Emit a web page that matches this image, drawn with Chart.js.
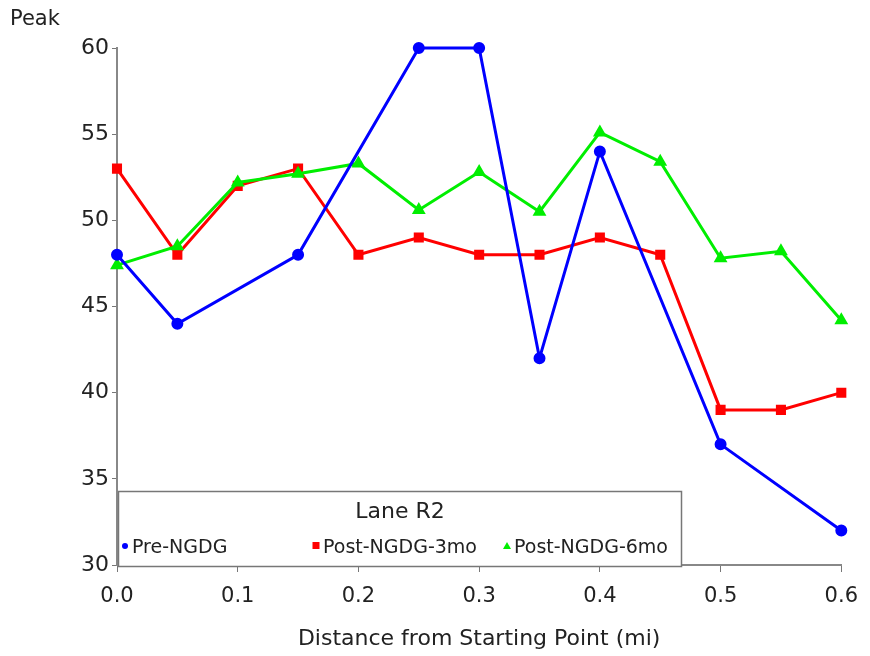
<!DOCTYPE html>
<html>
<head>
<meta charset="utf-8">
<script src="https://cdn.jsdelivr.net/npm/chart.js@4.4.1/dist/chart.umd.min.js"></script>
<style>
  html, body { margin: 0; padding: 0; background: #fff; }
  #wrap { width: 870px; height: 656px; position: relative; }
</style>
</head>
<body>
<div id="wrap"><canvas id="peakChart"></canvas></div>
<script>
// distances (mi) where readings were taken
const distance = [0, 0.05, 0.1, 0.15, 0.2, 0.25, 0.3, 0.35, 0.4, 0.45, 0.5, 0.55, 0.6];
// Pre-NGDG only has some of the stations
const preDistance = [0, 0.05, 0.15, 0.25, 0.3, 0.35, 0.4, 0.5, 0.6];
const preNGDG = [48, 44, 48, 60, 60, 42, 54, 37, 32];
const post3mo = [53, 48, 52, 53, 48, 49, 48, 48, 49, 48, 39, 39, 40];
const post6mo = [47.4, 48.5, 52.2, 52.7, 53.3, 50.6, 52.8, 50.5, 55.1, 53.4, 47.8, 48.2, 44.2];
const seriesNames = ['Pre-NGDG', 'Post-NGDG-3mo', 'Post-NGDG-6mo'];
const legendTitle = 'Lane R2';
const yTitle = 'Peak';
const xTitle = 'Distance from Starting Point (mi)';

const toPoints = (xs, ys) => xs.map((x, i) => ({ x: x, y: ys[i] }));
const FONT = "'DejaVu Sans', Verdana, sans-serif";

// legend box + "Peak" label, drawn on top
const overlay = {
  id: 'overlay',
  afterDraw(chart) {
    const ctx = chart.ctx;
    const x = chart.scales.x;
    ctx.save();
    // y title at top-left
    ctx.fillStyle = '#222';
    ctx.font = '21px ' + FONT;
    ctx.textAlign = 'left';
    ctx.textBaseline = 'middle';
    ctx.fillText(yTitle, 10, 20);

    // legend box
    const bx = x.getPixelForValue(0) + 1, by = 491, bw = 563, bh = 75;
    ctx.fillStyle = '#fff';
    ctx.fillRect(bx, by, bw, bh);
    ctx.strokeStyle = '#777';
    ctx.lineWidth = 1.5;
    ctx.strokeRect(bx + 0.5, by + 0.5, bw, bh);
    ctx.fillStyle = '#222';
    ctx.font = '22px ' + FONT;
    ctx.textAlign = 'center';
    ctx.fillText(legendTitle, 400, 512);

    const itemX = [125, 316, 507];
    ctx.font = '19px ' + FONT;
    ctx.textAlign = 'left';
    chart.data.datasets.forEach((ds, i) => {
      const cx = itemX[i], cy = 548;
      ctx.fillStyle = ds.borderColor;
      ctx.beginPath();
      if (ds.pointStyle === 'circle') {
        ctx.arc(cx, cy - 2, 3, 0, Math.PI * 2);
      } else if (ds.pointStyle === 'rect') {
        ctx.rect(cx - 3.5, cy - 6, 7, 7);
      } else {
        ctx.moveTo(cx, cy - 6);
        ctx.lineTo(cx + 4, cy + 1);
        ctx.lineTo(cx - 4, cy + 1);
        ctx.closePath();
      }
      ctx.fill();
      ctx.fillStyle = '#222';
      ctx.fillText(ds.label, cx + 7, cy);
    });
    ctx.restore();
  }
};

new Chart(document.getElementById('peakChart'), {
  type: 'line',
  data: {
    datasets: [
      {
        label: seriesNames[0],
        data: toPoints(preDistance, preNGDG),
        borderColor: '#0000ff', backgroundColor: '#0000ff',
        pointStyle: 'circle', pointRadius: 4.5, borderWidth: 3, order: 0
      },
      {
        label: seriesNames[1],
        data: toPoints(distance, post3mo),
        borderColor: '#ff0000', backgroundColor: '#ff0000',
        pointStyle: 'rect', pointRadius: 5, borderWidth: 3, order: 2
      },
      {
        label: seriesNames[2],
        data: toPoints(distance, post6mo),
        borderColor: '#00ee00', backgroundColor: '#00ee00',
        pointStyle: 'triangle', pointRadius: 5, borderWidth: 3, order: 1
      }
    ]
  },
  options: {
    responsive: true,
    maintainAspectRatio: false,
    animation: false,
    clip: false,
    layout: { padding: { top: 48, right: 25, left: 0, bottom: 0 } },
    plugins: { legend: { display: false }, tooltip: { enabled: false } },
    elements: { line: { tension: 0 } },
    scales: {
      x: {
        type: 'linear', min: 0, max: 0.6,
        afterFit: (s) => { s.height = 91; },
        ticks: {
          stepSize: 0.1, color: '#222', padding: 12,
          font: { family: FONT, size: 21 },
          callback: (v) => v.toFixed(1)
        },
        grid: { drawOnChartArea: false, drawTicks: true, tickLength: 7, color: '#777' },
        border: { color: '#888', width: 2 },
        title: {
          display: true, text: xTitle, color: '#222',
          font: { family: FONT, size: 22 }, padding: { top: 2 }
        }
      },
      y: {
        min: 30, max: 60,
        afterFit: (s) => { s.width = 117; },
        ticks: {
          stepSize: 5, color: '#222', padding: 3,
          font: { family: FONT, size: 22 }
        },
        grid: { drawOnChartArea: false, drawTicks: true, tickLength: 5, color: '#777' },
        border: { color: '#888', width: 2 }
      }
    }
  },
  plugins: [overlay]
});
</script>
</body>
</html>
